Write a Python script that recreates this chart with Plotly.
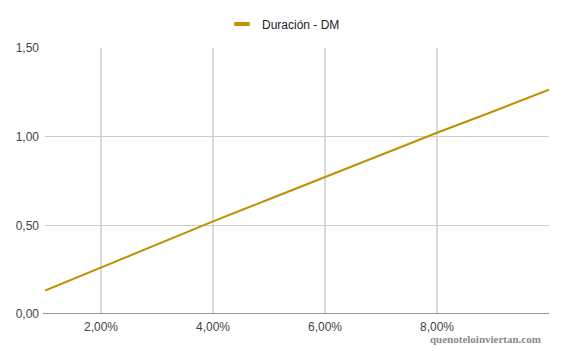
import plotly.graph_objects as go

tasa = [0.01, 0.02, 0.03, 0.04, 0.05, 0.06, 0.07, 0.08, 0.09, 0.10]
dm = [0.132, 0.262, 0.392, 0.522, 0.647, 0.772, 0.897, 1.022, 1.142, 1.265]
serie = "Duración - DM"
x_ticks = [0.02, 0.04, 0.06, 0.08, 0.10]
x_labels = ["2,00%", "4,00%", "6,00%", "8,00%", ""]
y_ticks = [0, 0.5, 1.0, 1.5]
y_labels = ["0,00", "0,50", "1,00", "1,50"]
color = "#BF9000"

fig = go.Figure()
fig.add_trace(go.Scatter(x=tasa, y=dm, mode="lines", name=serie, showlegend=False,
                         line=dict(color=color, width=2)))
fig.add_trace(go.Scatter(x=[None], y=[None], mode="markers", name=serie, showlegend=True,
                         marker=dict(symbol="line-ew", size=11, color=color,
                                     line=dict(color=color, width=4))))

fig.update_layout(
    width=567, height=351,
    margin=dict(l=45, r=18, t=48, b=37, autoexpand=False),
    paper_bgcolor="white", plot_bgcolor="white",
    font=dict(family="Arial, Liberation Sans, sans-serif", size=12, color="#444444"),
    showlegend=True,
    legend=dict(orientation="h", x=0.5, xanchor="center", y=1 - 24 / 351, yanchor="middle",
                yref="container", xref="container", itemwidth=30,
                font=dict(size=12, color="#222222")),
    xaxis=dict(range=[0.01, 0.10], tickvals=x_ticks, ticktext=x_labels,
               showgrid=True, gridcolor="#dadada", gridwidth=1.5,
               zeroline=False, showline=False, ticks="", ticklabelstandoff=4,
               tickfont=dict(size=12, color="#444444")),
    yaxis=dict(range=[0, 1.5], tickvals=y_ticks, ticktext=y_labels,
               showgrid=True, gridcolor="#cccccc", gridwidth=1,
               zeroline=False, showline=False, ticks="", ticklen=0, ticklabelstandoff=5,
               tickfont=dict(size=12, color="#444444")),
    shapes=[dict(type="line", xref="paper", yref="y", x0=-2 / 504, x1=1, y0=0, y1=0,
                 line=dict(color="#333333", width=1))],
    annotations=[dict(text="<b>quenoteloinviertan.com</b>", xref="paper", yref="paper",
                      x=(543 - 45) / 504, y=(314 - 339) / 266, xanchor="right", yanchor="middle",
                      showarrow=False,
                      font=dict(family="Liberation Serif, DejaVu Serif, serif", size=11, color="#8a8a8a"))],
)
fig.write_html("out.html")
